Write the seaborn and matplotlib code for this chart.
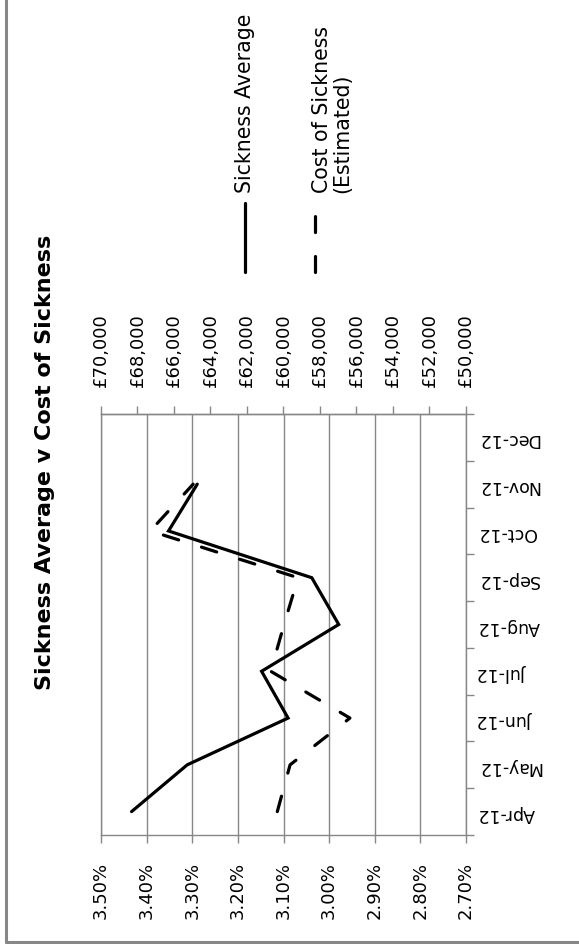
import numpy as np
import pandas as pd
import matplotlib
matplotlib.use("Agg")
import matplotlib.pyplot as plt
import seaborn as sns
from matplotlib.lines import Line2D

# ---------------- data ----------------
months = ["Apr-12", "May-12", "Jun-12", "Jul-12", "Aug-12", "Sep-12", "Oct-12", "Nov-12", "Dec-12"]
sickness_average = [3.433, 3.311, 3.090, 3.148, 2.979, 3.038, 3.352, 3.289, np.nan]   # percent
cost_estimated = [60340, 59640, 56360, 60700, 59970, 59200, 67300, 64950, np.nan]      # GBP
pct_ticks = [3.50, 3.40, 3.30, 3.20, 3.10, 3.00, 2.90, 2.80, 2.70]
cost_ticks = [70000, 68000, 66000, 64000, 62000, 60000, 58000, 56000, 54000, 52000, 50000]
title = "Sickness Average v Cost of Sickness"
legend_labels = ["Sickness Average", "Cost of Sickness\n(Estimated)"]

# ---------------- style ----------------
sns.set_theme(style="white")
plt.rcParams["font.family"] = ["DejaVu Sans"]
GRAY = "#878787"
W, H = 579, 944

fig = plt.figure(figsize=(W / 100, H / 100), dpi=100)
fig.patch.set_facecolor("white")

def fx(px):
    return px / W

def fy(py):
    return 1 - py / H

ax = fig.add_axes([fx(101), fy(835), (466 - 101) / W, (835 - 414) / H])

df = pd.DataFrame({
    "month": months,
    "pos": np.arange(len(months)),
    "sickness": sickness_average,
    "cost": cost_estimated,
})

sns.lineplot(data=df, x="sickness", y="pos", orient="y", ax=ax,
             color="black", linewidth=2.3, solid_capstyle="round", solid_joinstyle="miter")
ax.set_xlim(3.50, 2.70)
ax.set_ylim(-0.5, len(months) - 0.5)
ax.set_xlabel("")
ax.set_ylabel("")

# percent axis (bottom)
ax.set_xticks(pct_ticks)
ax.set_xticklabels([f"{v:.2f}%" for v in pct_ticks], rotation=90)
ax.xaxis.grid(True, color=GRAY, linewidth=1.0)
ax.yaxis.grid(False)
ax.tick_params(axis="x", which="major", direction="out", bottom=True, length=5.8,
               width=1.0, color=GRAY, pad=13.5, labelsize=13, labelcolor="black")

# category axis (right)
ax.yaxis.tick_right()
ax.set_yticks(np.arange(-0.5, len(months), 1.0))
ax.set_yticklabels([])
ax.set_yticks(np.arange(len(months)), minor=True)
ax.set_yticklabels(months, minor=True, rotation=180)
ax.tick_params(axis="y", which="major", direction="out", right=True, left=False,
               length=5.8, width=1.0, color=GRAY)
ax.tick_params(axis="y", which="minor", right=True, left=False, length=0,
               pad=8, labelsize=12.5, labelcolor="black")

for side in ["left", "bottom", "right", "top"]:
    ax.spines[side].set_visible(True)
    ax.spines[side].set_color(GRAY)
    ax.spines[side].set_linewidth(1.0)

# cost axis (top)
ax2 = ax.twiny()
sns.lineplot(data=df, x="cost", y="pos", orient="y", ax=ax2,
             color="black", linewidth=2.3)
ln = ax2.lines[-1]
ln.set_dashes((5.0, 7.5))
ln.set_dash_capstyle("round")
ax2.set_xlim(70000, 50000)
ax2.set_ylim(-0.5, len(months) - 0.5)
ax2.set_xlabel("")
ax2.set_ylabel("")
ax2.set_xticks(cost_ticks)
ax2.set_xticklabels([f"£{v:,}" for v in cost_ticks], rotation=90)
ax2.tick_params(axis="x", direction="out", top=True, length=5.8, width=1.0,
                color=GRAY, pad=13.5, labelsize=13, labelcolor="black")
ax2.grid(False)
for side in ["left", "bottom", "right", "top"]:
    ax2.spines[side].set_visible(False)
ax2.spines["top"].set_visible(True)
ax2.spines["top"].set_color(GRAY)
ax2.spines["top"].set_linewidth(1.0)
if ax2.get_legend() is not None:
    ax2.get_legend().remove()

# title
fig.text(fx(45), fy(462), title, rotation=90, ha="center", va="center",
         fontsize=16, fontweight="bold", color="black")

# legend (rotated, drawn manually)
fig.add_artist(Line2D([fx(245), fx(245)], [fy(272), fy(203)], color="black",
                      linewidth=2.3, solid_capstyle="round", transform=fig.transFigure))
fig.text(fx(245), fy(193), legend_labels[0], rotation=90, ha="center", va="bottom",
         fontsize=14.8, color="black")
dl = Line2D([fx(315), fx(315)], [fy(272), fy(215)], color="black", linewidth=2.3,
            transform=fig.transFigure)
dl.set_dashes((5.0, 7.5))
dl.set_dash_capstyle("round")
fig.add_artist(dl)
fig.text(fx(332), fy(193), legend_labels[1], rotation=90, ha="center", va="bottom",
         multialignment="left", fontsize=14.8, color="black", linespacing=1.05)

# chart border (left and bottom parts visible)
fig.add_artist(Line2D([fx(6), fx(6)], [fy(0), fy(942)], color=GRAY, linewidth=2.2,
                      transform=fig.transFigure))
fig.add_artist(Line2D([fx(6), fx(579)], [fy(942), fy(942)], color=GRAY, linewidth=2.2,
                      transform=fig.transFigure))

fig.savefig("out.png", dpi=100)
